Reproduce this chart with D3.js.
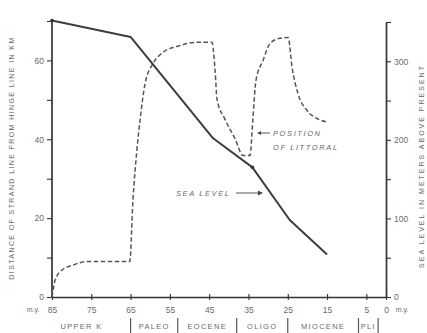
<!DOCTYPE html>
<html>
<head>
<meta charset="utf-8">
<script src="https://cdn.jsdelivr.net/npm/d3@7"></script>
<style>
  body { margin: 0; background: #fff; }
  svg text { font-family: "Liberation Sans", Arial, sans-serif; fill: #6a6a6a; }
</style>
</head>
<body>
<div id="container"></div>
<script>
/* CONSTANTS AND GLOBALS */
const width = 427,
  height = 333,
  margin = {top: 21, bottom: 36, left: 52, right: 41};

/* DATA */
// sea level, m.y. ago -> meters above present
const seaAge = [85, 65, 44, 34, 24.5, 15];
const seaMeters = [352, 331, 202, 165, 98, 54];

// position of littoral, m.y. ago -> km from hinge line
const litAge = [85, 84.2, 82.5, 79.7, 76, 65.2, 64.4, 63.4, 62.6, 61.3, 59.3, 56.8, 52.4, 48.1, 44.3,
  43.5, 43, 41, 38.4, 36.4, 34.6, 33.9, 33.1, 31.3, 29.5, 27, 24.9, 23.9, 22.4, 20.1, 17.6, 14.8];
const litKm = [0, 4.3, 6.8, 8.1, 9, 9, 24.6, 37.2, 44.8, 54.2, 59.2, 62, 63.8, 64.6, 64.6,
  57.5, 50.1, 45.1, 40.1, 35.9, 35.9, 44.8, 54.9, 60, 64.3, 65.6, 65.8, 58.2, 51.6, 47.3, 45.3, 44.3];

const xTicks = [85, 75, 65, 55, 45, 35, 25, 15, 5, 0];
const leftTicks = [0, 10, 20, 30, 40, 50, 60, 70];
const leftLabels = [0, 20, 40, 60];
const rightTicks = [0, 50, 100, 150, 200, 250, 300, 350];
const rightLabels = [0, 100, 200, 300];

const epochNames = ["UPPER K", "PALEO", "EOCENE", "OLIGO", "MIOCENE", "PLI"];
const epochMid = [77.5, 59, 45.5, 31.5, 16, 4.5];
const epochEnd = [65, 53, 38, 25, 7, 2];

const seaData = seaAge.map((a, i) => ({age: a, v: seaMeters[i]}));
const litData = litAge.map((a, i) => ({age: a, v: litKm[i]}));

// SCALES
const xScale = d3.scaleLinear()
  .domain([85, 0])
  .range([margin.left, width - margin.right]);

const yLeft = d3.scaleLinear()
  .domain([0, 70])
  .range([height - margin.bottom, margin.top]);

const yRight = d3.scaleLinear()
  .domain([0, 350])
  .range([height - margin.bottom, margin.top + 1]);

// CREATE SVG ELEMENT
const svg = d3.select("#container")
  .append("svg")
  .attr("width", width)
  .attr("height", height);

const axisColor = "#333";

// BUILD AND CALL AXES
const xAxis = d3.axisBottom(xScale)
  .tickValues(xTicks)
  .tickSize(3)
  .tickSizeOuter(0)
  .tickFormat(d3.format("d"));
const gx = svg.append("g")
  .attr("transform", `translate(0, ${height - margin.bottom})`)
  .call(xAxis);
gx.selectAll(".tick line").attr("y1", -3).attr("y2", 3);
gx.selectAll(".tick text").attr("dy", "1.15em");

const yAxisL = d3.axisLeft(yLeft)
  .tickValues(leftTicks)
  .tickSize(5)
  .tickSizeOuter(0)
  .tickFormat(d => leftLabels.includes(d) ? d : "");
const gl = svg.append("g")
  .attr("transform", `translate(${margin.left},0)`)
  .call(yAxisL);
gl.selectAll(".tick text").attr("x", -8);

const yAxisR = d3.axisRight(yRight)
  .tickValues(rightTicks)
  .tickSize(5)
  .tickSizeOuter(0)
  .tickFormat(d => rightLabels.includes(d) ? d : "");
const gr = svg.append("g")
  .attr("transform", `translate(${width - margin.right},0)`)
  .call(yAxisR);
gr.selectAll(".tick text").attr("x", 8);

[gx, gl, gr].forEach(g => {
  g.selectAll("path.domain").attr("stroke", axisColor).attr("stroke-width", 1.7);
  g.selectAll(".tick line").attr("stroke", axisColor).attr("stroke-width", 1.1);
  g.selectAll(".tick text")
    .style("font-family", "Liberation Sans, Arial, sans-serif")
    .style("font-size", "8.5px")
    .attr("fill", "#7a7a7a");
});
// left axis extends to the 70 tick at top
gl.select("path.domain").attr("d", `M0,${yLeft(0)}V${yLeft(70)}`);

// m.y. labels
svg.append("text").attr("x", 33).attr("y", height - margin.bottom + 15)
  .attr("text-anchor", "middle").style("font-size", "7px").text("m.y.");
svg.append("text").attr("x", xScale(0) + 16).attr("y", height - margin.bottom + 15)
  .attr("text-anchor", "middle").style("font-size", "7px").text("m.y.");

// EPOCHS
svg.selectAll("text.epoch")
  .data(epochNames)
  .join("text")
  .attr("class", "epoch")
  .attr("x", (d, i) => xScale(epochMid[i]))
  .attr("y", 329)
  .attr("text-anchor", "middle")
  .style("font-size", "7.5px")
  .style("letter-spacing", "1.3px")
  .text(d => d);

svg.selectAll("line.sep")
  .data(epochEnd)
  .join("line")
  .attr("class", "sep")
  .attr("x1", d => xScale(d)).attr("x2", d => xScale(d))
  .attr("y1", 318).attr("y2", 333)
  .attr("stroke", "#555")
  .attr("stroke-width", 1.2);

// AXIS TITLES
svg.append("text")
  .attr("transform", `translate(14, 158) rotate(-90)`)
  .attr("text-anchor", "middle")
  .style("font-size", "7px")
  .style("letter-spacing", "1.4px")
  .text("DISTANCE OF STRAND LINE FROM HINGE LINE IN KM");

svg.append("text")
  .attr("transform", `translate(424, 166) rotate(-90)`)
  .attr("text-anchor", "middle")
  .style("font-size", "7px")
  .style("letter-spacing", "2px")
  .text("SEA LEVEL IN METERS ABOVE PRESENT");

// LINE GENERATORS
const seaLine = d3.line()
  .x(d => xScale(d.age))
  .y(d => yRight(d.v));

const litLine = d3.line()
  .x(d => xScale(d.age))
  .y(d => yLeft(d.v))
  .curve(d3.curveMonotoneX);

// DRAW LINES
svg.append("path")
  .datum(litData)
  .attr("fill", "none")
  .attr("stroke", "#555")
  .attr("stroke-width", 1.5)
  .attr("stroke-dasharray", "4.5,2.5")
  .attr("d", litLine);

svg.append("path")
  .datum(seaData)
  .attr("fill", "none")
  .attr("stroke", "#3d3d3d")
  .attr("stroke-width", 2)
  .attr("stroke-linejoin", "round")
  .attr("d", seaLine);

// small dots on the curve
svg.selectAll("circle.dot")
  .data([seaData[0], seaData[3]])
  .join("circle")
  .attr("class", "dot")
  .attr("cx", d => xScale(d.age))
  .attr("cy", d => yRight(d.v))
  .attr("r", 1.8)
  .attr("fill", "#333");

// ANNOTATIONS
const ann = svg.append("g").style("font-style", "italic");
ann.append("text").attr("x", 273).attr("y", 136)
  .style("font-size", "7.5px").style("letter-spacing", "1.6px").text("POSITION");
ann.append("text").attr("x", 273).attr("y", 150)
  .style("font-size", "7.5px").style("letter-spacing", "1.6px").text("OF LITTORAL");
ann.append("line").attr("x1", 260).attr("x2", 270).attr("y1", 133).attr("y2", 133)
  .attr("stroke", "#555").attr("stroke-width", 1);
ann.append("path").attr("d", "M257,133 l4,-2 v4 z").attr("fill", "#444");

ann.append("text").attr("x", 176).attr("y", 196)
  .style("font-size", "7.5px").style("letter-spacing", "1.6px").text("SEA LEVEL");
ann.append("line").attr("x1", 236).attr("x2", 258).attr("y1", 193).attr("y2", 193)
  .attr("stroke", "#555").attr("stroke-width", 1);
ann.append("path").attr("d", "M263,193 l-5,-2.5 v5 z").attr("fill", "#444");
</script>
</body>
</html>
